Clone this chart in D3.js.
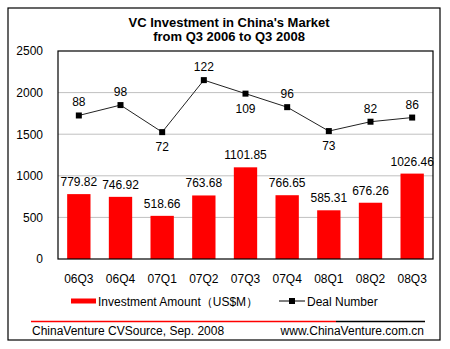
<!DOCTYPE html>
<html><head><meta charset="utf-8">
<script src="https://cdn.jsdelivr.net/npm/d3@7"></script>
<style>
body{margin:0;background:#fff;}
text{font-family:"Liberation Sans",Arial,sans-serif;}
</style></head>
<body>
<svg id="c" width="450" height="349"></svg>
<script>
const categories = ["06Q3","06Q4","07Q1","07Q2","07Q3","07Q4","08Q1","08Q2","08Q3"];
const investment = [779.82,746.92,518.66,763.68,1101.85,766.65,585.31,676.26,1026.46];
const deals = [88,98,72,122,109,96,73,82,86];
const dealLabelPos = ["above","above","below","above","below","above","below","above","above"];
const yTicks = [0,500,1000,1500,2000,2500];
const titleLines = ["VC Investment in China's Market","from Q3 2006 to Q3 2008"];

const svg = d3.select("#c");
const L=58, R=433, T=51, B=259;

// outer frame
svg.append("rect").attr("x",8).attr("y",8).attr("width",432).attr("height",332)
  .attr("fill","#fff").attr("stroke","#000").attr("stroke-width",1.2);

// title
svg.selectAll(".title").data(titleLines).enter().append("text")
  .attr("x",229).attr("y",(d,i)=>27+i*14).attr("text-anchor","middle")
  .attr("font-size",13).attr("font-weight","bold").text(d=>d);

const x = d3.scaleBand().domain(categories).range([L,R]).paddingInner(0.44).paddingOuter(0.22);
const y = d3.scaleLinear().domain([0,2500]).range([B,T]);
const y2 = d3.scaleLinear().domain([-50,150]).range([B,T]);

// gridlines
svg.append("g").selectAll("line").data(yTicks.filter(t=>t>0 && t<2500)).enter().append("line")
  .attr("x1",L).attr("x2",R).attr("y1",d=>y(d)).attr("y2",d=>y(d))
  .attr("stroke","#c0c0c0").attr("stroke-width",1);

// y axis labels
const yAxis = d3.axisLeft(y).tickValues(yTicks).tickFormat(d3.format("d")).tickSize(0).tickPadding(0);
const ga = svg.append("g").attr("transform",`translate(43,0)`).call(yAxis);
ga.select(".domain").remove();
ga.selectAll("text").attr("font-size",12).attr("fill","#000").attr("font-family","Liberation Sans, Arial, sans-serif");

// x axis labels
const xAxis = d3.axisBottom(x).tickSize(0).tickPadding(0);
const gx = svg.append("g").attr("transform",`translate(0,274)`).call(xAxis);
gx.select(".domain").remove();
gx.selectAll("text").attr("font-size",12).attr("fill","#000").attr("font-family","Liberation Sans, Arial, sans-serif");

// bars
svg.append("g").selectAll("rect").data(investment).enter().append("rect")
  .attr("x",(d,i)=>x(categories[i])).attr("width",x.bandwidth())
  .attr("y",d=>y(d)).attr("height",d=>B-y(d)).attr("fill","#ff0000");

svg.append("g").selectAll("text").data(investment).enter().append("text")
  .attr("x",(d,i)=>x(categories[i])+x.bandwidth()/2).attr("y",d=>y(d)-8)
  .attr("text-anchor","middle").attr("font-size",12).text(d=>d.toFixed(2));

// plot border
svg.append("rect").attr("x",L).attr("y",T).attr("width",R-L).attr("height",B-T)
  .attr("fill","none").attr("stroke","#000").attr("stroke-width",1.2);

// line
const cx = (i)=>x(categories[i])+x.bandwidth()/2;
const line = d3.line().x((d,i)=>cx(i)).y(d=>y2(d));
svg.append("path").datum(deals).attr("d",line).attr("fill","none").attr("stroke","#222").attr("stroke-width",1);
svg.append("g").selectAll("rect").data(deals).enter().append("rect")
  .attr("x",(d,i)=>cx(i)-3).attr("y",d=>y2(d)-3).attr("width",6).attr("height",6).attr("fill","#000");
svg.append("g").selectAll("text").data(deals).enter().append("text")
  .attr("x",(d,i)=>cx(i))
  .attr("y",(d,i)=>dealLabelPos[i]==="above"? y2(d)-9 : y2(d)+19)
  .attr("text-anchor","middle").attr("font-size",12).text(d=>d);

// legend
svg.append("rect").attr("x",71).attr("y",298.5).attr("width",25).attr("height",5).attr("fill","#ff0000");
svg.append("text").attr("x",98).attr("y",306).attr("font-size",12).text("Investment Amount（US$M）");
svg.append("line").attr("x1",279).attr("x2",305).attr("y1",301).attr("y2",301).attr("stroke","#000");
svg.append("rect").attr("x",289).attr("y",298).attr("width",6).attr("height",6).attr("fill","#000");
svg.append("text").attr("x",307).attr("y",306).attr("font-size",12).text("Deal Number");

// footer
svg.append("line").attr("x1",31).attr("x2",336).attr("y1",321.5).attr("y2",321.5).attr("stroke","#ff0000").attr("stroke-width",1.5);
svg.append("line").attr("x1",336).attr("x2",425).attr("y1",321.5).attr("y2",321.5).attr("stroke","#000").attr("stroke-width",1.5);
svg.append("text").attr("x",32).attr("y",335).attr("font-size",12).text("ChinaVenture CVSource, Sep. 2008");
svg.append("text").attr("x",424).attr("y",335).attr("text-anchor","end").attr("font-size",12).text("www.ChinaVenture.com.cn");
</script>
</body></html>
